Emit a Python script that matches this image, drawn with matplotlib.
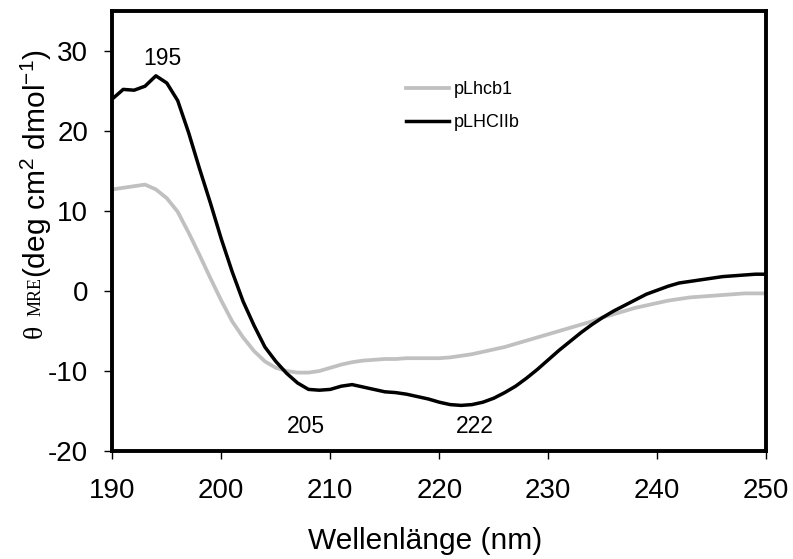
import matplotlib
matplotlib.use("Agg")
import matplotlib.pyplot as plt
import numpy as np

plt.rcParams['font.family'] = ['Liberation Sans', 'DejaVu Sans']
plt.rcParams['axes.unicode_minus'] = False

wavelength = list(range(190, 251))
pLHCIIb = [24.0, 25.2, 25.1, 25.6, 26.9, 26.0, 23.8, 19.8, 15.3, 11.0,
           6.5, 2.4, -1.3, -4.3, -7.0, -8.8, -10.3, -11.5, -12.3, -12.4,
           -12.3, -11.9, -11.7, -12.0, -12.3, -12.6, -12.7, -12.9, -13.2, -13.5,
           -13.9, -14.2, -14.3, -14.2, -13.9, -13.4, -12.7, -11.9, -10.9, -9.8,
           -8.6, -7.4, -6.3, -5.2, -4.2, -3.3, -2.5, -1.8, -1.1, -0.4,
           0.1, 0.6, 1.0, 1.2, 1.4, 1.6, 1.8, 1.9, 2.0, 2.1, 2.1]
pLhcb1 = [12.7, 12.9, 13.1, 13.3, 12.7, 11.6, 9.9, 7.3, 4.5, 1.6,
          -1.2, -3.8, -5.8, -7.5, -8.8, -9.6, -10.0, -10.2, -10.2, -10.0,
          -9.6, -9.2, -8.9, -8.7, -8.6, -8.5, -8.5, -8.4, -8.4, -8.4,
          -8.4, -8.3, -8.1, -7.9, -7.6, -7.3, -7.0, -6.6, -6.2, -5.8,
          -5.4, -5.0, -4.6, -4.2, -3.8, -3.3, -2.9, -2.5, -2.1, -1.8,
          -1.5, -1.2, -1.0, -0.8, -0.7, -0.6, -0.5, -0.4, -0.3, -0.3, -0.3]
series_names = ["pLhcb1", "pLHCIIb"]
annotations = [("195", 194.6, 29.1), ("205", 207.8, -16.9), ("222", 223.3, -16.9)]
xticks = [190, 200, 210, 220, 230, 240, 250]
yticks = [-20, -10, 0, 10, 20, 30]

W, H = 793, 559
fig = plt.figure(figsize=(W/100, H/100), dpi=100)
L, R, T, B = 112.3, 766.3, 11, 451
ax = fig.add_axes([L/W, 1 - B/H, (R-L)/W, (B-T)/H])

ax.plot(wavelength, pLhcb1, color='#c0c0c0', lw=2.7, label=series_names[0])
ax.plot(wavelength, pLHCIIb, color='black', lw=2.5, label=series_names[1])

ax.set_xlim(190, 250)
ax.set_ylim(-20, 35)
ax.set_xticks(xticks)
ax.set_yticks(yticks)
ax.tick_params(axis='x', direction='out', length=5.8, width=1, pad=13.5, labelsize=20)
ax.tick_params(axis='y', direction='out', length=5.8, width=1, pad=11.5, labelsize=20)
for s in ax.spines.values():
    s.set_linewidth(2.8)

for txt, x, y in annotations:
    ax.text(x, y, txt, ha='center', va='center', fontsize=16.5)

leg = ax.legend(loc='upper left', bbox_to_anchor=(406/W, 1 - 81/H),
                bbox_transform=fig.transFigure, frameon=False,
                fontsize=13, handlelength=2.4, handletextpad=0.25, labelspacing=0.9,
                borderaxespad=0, borderpad=0)

ax.set_xlabel("Wellenlänge (nm)", fontsize=21.5, va='center')
ax.xaxis.set_label_coords((425 - L)/(R - L), (B - 541)/(B - T))

# composite y label
fig.text(35/W, 1 - 331/H, "θ", rotation=90, fontsize=20,
         family=['Liberation Serif', 'DejaVu Serif'], ha='center', va='center')
fig.text(36/W, 1 - 296/H, "MRE", rotation=90, fontsize=13,
         family=['Liberation Serif', 'DejaVu Serif'], ha='center', va='center')
fig.text(46/W, 1 - 163.5/H, r"(deg cm$\mathregular{^2}$ dmol$\mathregular{^{-1}}$)", rotation=90,
         rotation_mode='anchor', fontsize=21.5, ha='center', va='baseline')

fig.savefig("out.png", dpi=100)
